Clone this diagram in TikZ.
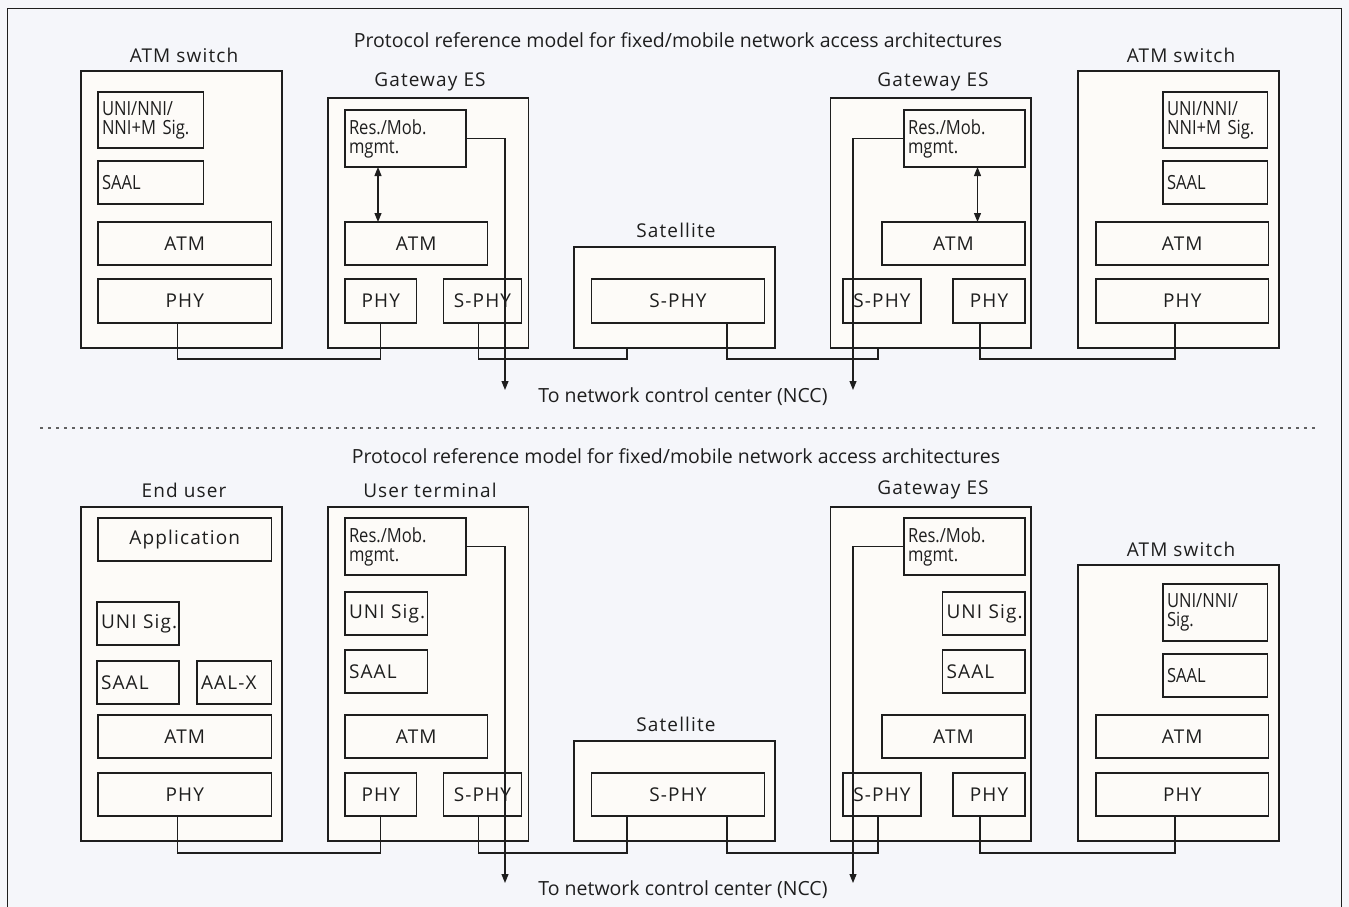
\documentclass[tikz,border=0pt]{standalone}
\usepackage{fontspec}
\setmainfont{Open Sans}
\newfontfamily\spc[LetterSpace=6]{Open Sans}
\newfontfamily\cnd[FakeStretch=0.85]{Open Sans}
\newfontfamily\capf[FakeStretch=1.0]{Open Sans}
\usetikzlibrary{arrows.meta}
\definecolor{bgc}{HTML}{F5F6FA}
\definecolor{boxc}{HTML}{FDFBF8}
\definecolor{ink}{HTML}{1E1E1E}
\newcommand{\blk}[7][]{%
  \pgfmathsetmacro\bw{#5-#3}%
  \pgfmathsetmacro\bh{#6-#4}%
  \pgfmathsetmacro\tw{#5-#3-8}%
  \node[box,minimum width=\bw pt,minimum height=\bh pt,#1] (#2) at ({(#3+#5)/2},{(#4+#6)/2}) {#7};}
\tikzset{
  box/.style={draw=ink,line width=1.2pt,fill=boxc,inner xsep=4pt,inner ysep=0pt,outer sep=0pt,
    text=ink,font=\spc\fontsize{19}{21}\selectfont},
  cn/.style={font=\cnd\fontsize{19.5}{19}\selectfont},
  lft/.style={text width=\tw pt,align=left},
  ttl/.style={text=ink,inner sep=0pt,font=\spc\fontsize{19}{21}\selectfont},
  captxt/.style={text=ink,inner sep=0pt,font=\capf\fontsize{19.5}{21}\selectfont},
  conn/.style={draw=ink,line width=1.1pt},
  tip/.style={-{Triangle[length=9pt,width=7pt]}},
  dtip/.style={{Triangle[length=9pt,width=7pt]}-{Triangle[length=9pt,width=7pt]}},
  sepline/.style={draw=ink!70,line width=1.2pt,dash pattern=on 3pt off 5pt},
  frame/.style={draw=ink,line width=1.5pt}
}
\begin{document}
\begin{tikzpicture}[x=1pt,y=-1pt]
\fill[bgc] (0,0) rectangle (1349,907);
\useasboundingbox (0,0) rectangle (1349,907);
\draw[frame] (7.5,907) -- (7.5,8.5) -- (1341.5,8.5) -- (1341.5,907);

% ---------------- top section ----------------
\node[captxt] (titleA) at (678,40) {Protocol reference model for fixed/mobile network access architectures};

\node[ttl] (tA) at (184,55) {ATM switch};
\blk{asA}{81}{71}{282}{348}{}
\blk[cn,lft]{asAsig}{98}{92}{203.5}{148}{UNI/NNI/\\NNI+M Sig.}
\blk[cn,lft]{asAsaal}{98}{161}{203.5}{204}{SAAL}
\blk{asAatm}{98}{222}{271.5}{265}{ATM}
\blk{asAphy}{98}{279}{271.5}{323}{PHY}

\node[ttl] (tB) at (430,82) {Gateway ES};
\blk{gwA}{328}{98}{528.5}{348}{}
\blk[cn,lft]{gwAres}{345}{110}{466}{167}{Res./Mob.\\mgmt.}
\blk{gwAatm}{345}{222}{487.5}{265}{ATM}
\blk{gwAphy}{345}{279}{416.5}{323}{PHY}
\blk{gwAsphy}{443.5}{279}{521.5}{323}{S-PHY}

\node[ttl] (tC) at (676,230) {Satellite};
\blk{satA}{574}{247}{775}{348}{}
\blk{satAsphy}{591.5}{279}{764.5}{323}{S-PHY}

\node[ttl] (tD) at (933,82) {Gateway ES};
\blk{gwB}{830.5}{98}{1031}{348}{}
\blk[cn,lft]{gwBres}{904}{110}{1025}{167}{Res./Mob.\\mgmt.}
\blk{gwBatm}{882}{222}{1025}{265}{ATM}
\blk{gwBsphy}{843}{279}{921}{323}{S-PHY}
\blk{gwBphy}{953}{279}{1025}{323}{PHY}

\node[ttl] (tE) at (1181,55) {ATM switch};
\blk{asB}{1078}{71}{1279}{348}{}
\blk[cn,lft]{asBsig}{1163}{92}{1267.5}{148}{UNI/NNI/\\NNI+M Sig.}
\blk[cn,lft]{asBsaal}{1163}{161}{1267.5}{204}{SAAL}
\blk{asBatm}{1096}{222}{1268.5}{265}{ATM}
\blk{asBphy}{1096}{279}{1268.5}{323}{PHY}

\draw[conn] ([xshift=-7pt]asAphy.south) -- ++(0,36) -| (gwAphy.south);
\draw[conn] ([xshift=-4pt]gwAsphy.south) -- ++(0,36) -| ([xshift=-47.5pt]satA.south);
\draw[conn] ([xshift=49pt]satAsphy.south) -- ++(0,36) -| ([xshift=-52.75pt]gwB.south);
\draw[conn] ([xshift=-9pt]gwBphy.south) -- ++(0,36) -| ([xshift=-7.25pt]asBphy.south);

\coordinate (nccA) at (505,390);
\coordinate (nccB) at (853,390);
\draw[conn,tip] (gwAres.east) -| (nccA);
\draw[conn,tip] (gwBres.west) -| (nccB);
\draw[conn,dtip] ([xshift=33pt]gwAres.south west) -- ([xshift=33pt]gwAatm.north west);
\draw[conn,dtip] ([xshift=-47.5pt]gwBres.south east) -- ([xshift=-47.5pt]gwBatm.north east);
\node[captxt] (nccTA) at (683,397) {To network control center (NCC)};

% ---------------- separator ----------------
\coordinate (sepL) at (40,428);
\coordinate (sepR) at (1315,428);
\draw[sepline] (sepL) -- (sepR);

% ---------------- bottom section ----------------
\node[captxt] (titleB) at (676,456) {Protocol reference model for fixed/mobile network access architectures};

\node[ttl] (tF) at (184,490) {End user};
\blk{eu}{81}{507}{282}{841}{}
\blk{euapp}{98}{518}{271.5}{561}{Application}
\blk[lft]{euuni}{97}{602}{179}{645}{\mbox{UNI Sig.}}
\blk[lft]{eusaal}{97}{661}{179}{704}{SAAL}
\blk[lft]{euaal}{197}{661}{271.5}{704}{\mbox{AAL-X}}
\blk{euatm}{98}{715}{271.5}{758}{ATM}
\blk{euphy}{98}{773}{271.5}{816}{PHY}

\node[ttl] (tG) at (430,490) {User terminal};
\blk{ut}{328}{507}{528.5}{841}{}
\blk[cn,lft]{utres}{345}{518}{466}{575}{Res./Mob.\\mgmt.}
\blk[lft]{utuni}{345}{592}{427.5}{635}{\mbox{UNI Sig.}}
\blk[lft]{utsaal}{345}{650}{427.5}{693}{SAAL}
\blk{utatm}{345}{715}{487.5}{758}{ATM}
\blk{utphy}{345}{773}{416.5}{816}{PHY}
\blk{utsphy}{443.5}{773}{521.5}{816}{S-PHY}

\node[ttl] (tH) at (676,724) {Satellite};
\blk{satB}{574}{741}{775}{841}{}
\blk{satBsphy}{591.5}{773}{764.5}{816}{S-PHY}

\node[ttl] (tI) at (933,490) {Gateway ES};
\blk{gwC}{830.5}{507}{1031}{841}{}
\blk[cn,lft]{gwCres}{904}{518}{1025}{575}{Res./Mob.\\mgmt.}
\blk[lft]{gwCuni}{942.5}{592}{1025}{635}{\mbox{UNI Sig.}}
\blk[lft]{gwCsaal}{942.5}{650}{1025}{693}{SAAL}
\blk{gwCatm}{882}{715}{1025}{758}{ATM}
\blk{gwCsphy}{843}{773}{921}{816}{S-PHY}
\blk{gwCphy}{953}{773}{1025}{816}{PHY}

\node[ttl] (tJ) at (1181,549) {ATM switch};
\blk{asC}{1078}{565}{1279}{841}{}
\blk[cn,lft]{asCsig}{1163}{584}{1267.5}{641}{UNI/NNI/\\Sig.}
\blk[cn,lft]{asCsaal}{1163}{654}{1267.5}{697}{SAAL}
\blk{asCatm}{1096}{715}{1268.5}{758}{ATM}
\blk{asCphy}{1096}{773}{1268.5}{816}{PHY}

\draw[conn] ([xshift=-7pt]euphy.south) -- ++(0,37) -| (utphy.south);
\draw[conn] ([xshift=-4pt]utsphy.south) -- ++(0,37) -| ([xshift=-51pt]satBsphy.south);
\draw[conn] ([xshift=49pt]satBsphy.south) -- ++(0,37) -| ([xshift=-4pt]gwCsphy.south);
\draw[conn] ([xshift=-9pt]gwCphy.south) -- ++(0,37) -| ([xshift=-7.25pt]asCphy.south);

\coordinate (nccC) at (505,883);
\coordinate (nccD) at (853,883);
\draw[conn,tip] (utres.east) -| (nccC);
\draw[conn,tip] (gwCres.west) -| (nccD);
\node[captxt] (nccTB) at (683,890) {To network control center (NCC)};
\end{tikzpicture}
\end{document}
